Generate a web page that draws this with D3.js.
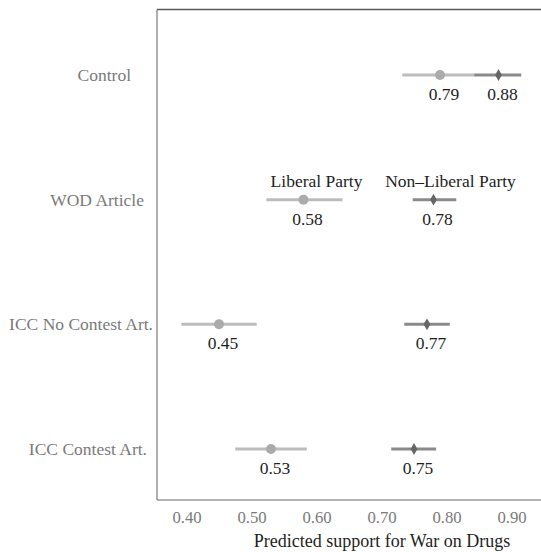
<!DOCTYPE html>
<html>
<head>
<meta charset="utf-8">
<script src="https://cdn.jsdelivr.net/npm/d3@7"></script>
<style>
  html, body { margin: 0; padding: 0; background: #fff; }
  svg { display: block; }
</style>
</head>
<body>
<svg id="chart" width="541" height="552"></svg>
<script>
// Treatment conditions, top to bottom
const categories = ["Control", "WOD Article", "ICC No Contest Art.", "ICC Contest Art."];

// Predicted support with 95% intervals, Liberal Party respondents
const liberalEst   = [0.79, 0.58, 0.45, 0.53];
const liberalLow   = [0.732, 0.523, 0.392, 0.475];
const liberalHigh  = [0.844, 0.640, 0.508, 0.585];

// Predicted support with 95% intervals, Non-Liberal Party respondents
const nonLiberalEst  = [0.88, 0.78, 0.77, 0.75];
const nonLiberalLow  = [0.843, 0.748, 0.735, 0.715];
const nonLiberalHigh = [0.915, 0.815, 0.805, 0.784];

const groupNames = ["Liberal Party", "Non\u2013Liberal Party"];
const xTicks = [0.40, 0.50, 0.60, 0.70, 0.80, 0.90];
const xTitle = "Predicted support for War on Drugs";

const FONT = '"Liberation Serif"';
const svg = d3.select("#chart");
const W = 541;
const frame = { left: 157, top: 9.5, bottom: 500 };

const x = d3.scaleLinear().domain([0.40, 0.90]).range([186.5, 511.5]);
const y = d3.scalePoint().domain(categories).range([75, 449]);

// Plot frame: top, left and bottom rules
const frameG = svg.append("g").attr("fill", "none");
frameG.append("line")
  .attr("x1", frame.left).attr("x2", W).attr("y1", frame.top).attr("y2", frame.top)
  .attr("stroke", "#5a5a5a").attr("stroke-width", 1.6);
frameG.append("line")
  .attr("x1", frame.left).attr("x2", frame.left).attr("y1", frame.top).attr("y2", frame.bottom)
  .attr("stroke", "#7a7a7a").attr("stroke-width", 1.2);
frameG.append("line")
  .attr("x1", frame.left).attr("x2", W).attr("y1", frame.bottom).attr("y2", frame.bottom)
  .attr("stroke", "#6a6a6a").attr("stroke-width", 1.2);

// Condition labels on the left
const labelNudge = { "Control": -19, "WOD Article": -6, "ICC No Contest Art.": 3, "ICC Contest Art.": -3 };
svg.append("g").selectAll("text")
  .data(categories)
  .join("text")
  .attr("x", d => 150 + labelNudge[d])
  .attr("y", d => y(d))
  .attr("dy", "0.35em")
  .attr("text-anchor", "end")
  .attr("fill", "#7a7a7a")
  .style("font-family", FONT)
  .style("font-size", "17.5px")
  .text(d => d);

// X axis (labels only, no tick marks)
const axisG = svg.append("g")
  .attr("transform", `translate(0,${frame.bottom + 11})`)
  .call(d3.axisBottom(x).tickValues(xTicks).tickFormat(d3.format(".2f")).tickSize(0).tickPadding(0));
axisG.select(".domain").remove();
axisG.selectAll("text")
  .attr("fill", "#7a7a7a")
  .style("font-family", FONT)
  .style("font-size", "16.7px");

svg.append("text")
  .attr("x", 382)
  .attr("y", 547)
  .attr("text-anchor", "middle")
  .attr("fill", "#1e1e1e")
  .style("font-family", FONT)
  .style("font-size", "18px")
  .text(xTitle);

// Build row records for both groups
const libRows = categories.map((c, i) => ({ cat: c, est: liberalEst[i], lo: liberalLow[i], hi: liberalHigh[i] }));
const nonRows = categories.map((c, i) => ({ cat: c, est: nonLiberalEst[i], lo: nonLiberalLow[i], hi: nonLiberalHigh[i] }));

// Interval bars
svg.append("g").selectAll("line")
  .data(libRows)
  .join("line")
  .attr("x1", d => x(d.lo)).attr("x2", d => x(d.hi))
  .attr("y1", d => y(d.cat)).attr("y2", d => y(d.cat))
  .attr("stroke", "#bcbcbc").attr("stroke-width", 3);

svg.append("g").selectAll("line")
  .data(nonRows)
  .join("line")
  .attr("x1", d => x(d.lo)).attr("x2", d => x(d.hi))
  .attr("y1", d => y(d.cat)).attr("y2", d => y(d.cat))
  .attr("stroke", "#8a8a8a").attr("stroke-width", 3);

// Point estimates: circles for Liberal, diamonds for Non-Liberal
svg.append("g").selectAll("circle")
  .data(libRows)
  .join("circle")
  .attr("cx", d => x(d.est)).attr("cy", d => y(d.cat))
  .attr("r", 5)
  .attr("fill", "#ababab");

const diamond = d3.symbol().type(d3.symbolDiamond).size(40);
svg.append("g").selectAll("path")
  .data(nonRows)
  .join("path")
  .attr("transform", d => `translate(${x(d.est)},${y(d.cat)})`)
  .attr("d", diamond)
  .attr("fill", "#666666");

// Value labels under each estimate
const valueFmt = d3.format(".2f");
svg.append("g").selectAll("text")
  .data(libRows.concat(nonRows))
  .join("text")
  .attr("x", d => x(d.est) + 4)
  .attr("y", d => y(d.cat) + 25)
  .attr("text-anchor", "middle")
  .attr("fill", "#1e1e1e")
  .style("font-family", FONT)
  .style("font-size", "17.5px")
  .text(d => valueFmt(d.est));

// Group names above the WOD Article row
const legendRow = categories[1];
svg.append("text")
  .attr("x", x(liberalEst[1]) + 13)
  .attr("y", y(legendRow) - 13)
  .attr("text-anchor", "middle")
  .attr("fill", "#1e1e1e")
  .style("font-family", FONT)
  .style("font-size", "17.5px")
  .text(groupNames[0]);
svg.append("text")
  .attr("x", x(nonLiberalEst[1]) + 17)
  .attr("y", y(legendRow) - 13)
  .attr("text-anchor", "middle")
  .attr("fill", "#1e1e1e")
  .style("font-family", FONT)
  .style("font-size", "17.5px")
  .text(groupNames[1]);
</script>
</body>
</html>
